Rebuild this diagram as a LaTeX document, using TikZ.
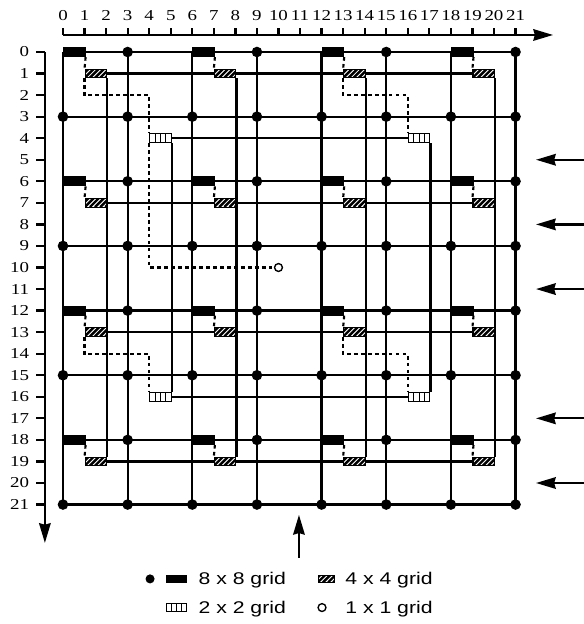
\documentclass[tikz,border=0pt]{standalone}
\usepackage{fontspec}
\setmainfont{Liberation Serif}[FakeStretch=1.25]
\newfontfamily\keyfont{Liberation Sans}[FakeStretch=1.25]
\usetikzlibrary{arrows.meta,backgrounds,calc}

\tikzset{
  gridline/.style={line width=1.5pt},
  linkline/.style={line width=1.4pt, dash pattern=on 2.4pt off 2.2pt},
  inarrow/.style={line width=1.5pt, -{Stealth[length=13pt,width=7.6pt,inset=1pt]}},
  dot8/.style={circle, fill=black, inner sep=0pt, minimum size=7pt},
  box8/.style={draw, fill=black, line width=0.7pt, inner sep=0pt, minimum width=0.5cm, minimum height=6pt},
  box4/.style={draw, fill=white, line width=0.7pt, inner sep=0pt, minimum width=0.5cm, minimum height=5.6pt,
    path picture={\foreach \k in {0,...,7}
      \draw[line width=1.6pt] ([xshift=\k*3.4pt-7pt]path picture bounding box.south west) -- ++(8pt,8pt);}},
  box2/.style={draw, fill=white, line width=0.7pt, inner sep=0pt, minimum width=0.5cm, minimum height=6pt,
    path picture={\foreach \k in {1,2,3}
      \draw[line width=0.7pt] ($(path picture bounding box.south west)!\k/4!(path picture bounding box.south east)$)
        -- ($(path picture bounding box.north west)!\k/4!(path picture bounding box.north east)$);}},
  dot1/.style={circle, draw, fill=white, line width=0.9pt, inner sep=0pt, minimum size=5.2pt},
  keytext/.style={anchor=base west, inner sep=0pt, font=\keyfont\fontsize{11.2}{13}\selectfont},
}

\begin{document}
\begin{tikzpicture}[x=0.5cm, y=-0.5cm, font=\fontsize{10}{12}\selectfont]
\useasboundingbox (-2.923,-2.413) rectangle (24.176,26.543);

\foreach \a in {0,...,7}
  \foreach \b in {0,...,7}
    \coordinate (p-\a-\b) at (3*\a,3*\b);

\foreach \a in {0,2,4,6}
  \foreach \b in {0,2,4,6} {
    \node[box8, anchor=west] (b-\a-\b) at (p-\a-\b) {};
    \node[box4, anchor=west] (h-\a-\b) at ($(p-\a-\b)+(1,1)$) {};
  }

\foreach \a in {0,...,7}
  \foreach \b in {0,...,7} {
    \pgfmathtruncatemacro\isdot{mod(\a,2)+mod(\b,2)}
    \ifnum\isdot>0 \node[dot8] (d-\a-\b) at (p-\a-\b) {}; \fi
  }

\foreach \a/\b in {4/4,16/4,4/16,16/16}
  \node[box2, anchor=west] (q-\a-\b) at (\a,\b) {};
\node[dot1] (c-10-10) at (10,10) {};

\begin{pgfonlayer}{background}
\foreach \b in {0,...,7} {
  \draw[gridline] (p-0-\b) -- (p-7-\b);
  \draw[gridline] (p-\b-0) -- (p-\b-7);
}
\foreach \b in {0,2,4,6} {
  \draw[gridline] (h-0-\b.east) -- (h-6-\b.west);
  \draw[gridline] (h-\b-0.south east) -- (h-\b-6.north east);
}
\draw[gridline] (q-4-4.east) -- (q-16-4.west);
\draw[gridline] (q-4-16.east) -- (q-16-16.west);
\draw[gridline] (q-4-4.south east) -- (q-4-16.north east);
\draw[gridline] (q-16-4.south east) -- (q-16-16.north east);

\foreach \a in {0,2,4,6}
  \foreach \b in {0,2,4,6}
    \draw[linkline] (b-\a-\b.south east) -- (h-\a-\b.north west);
\foreach \a/\b/\c/\d in {0/0/4/4, 4/0/16/4, 0/4/4/16, 4/4/16/16}
  \draw[linkline] (h-\a-\b.south west) -- ++(0,0.79) -| (q-\c-\d.north west);
\draw[linkline] (q-4-4.south west) |- (c-10-10.west);
\end{pgfonlayer}

\coordinate (xo) at (0,-0.79);
\coordinate (xe) at (22.74,-0.79);
\draw[inarrow] (xo) -- (xe);
\foreach \x in {0,...,21} {
  \draw[gridline] (\x,-0.79) -- (\x,-1.1);
  \node[anchor=base, inner sep=0pt] (xl-\x) at (\x,-1.485) {\x};
}
\coordinate (yo) at (-0.84,0);
\coordinate (ye) at (-0.84,22.78);
\draw[inarrow] (yo) -- (ye);
\foreach \y in {0,...,21} {
  \draw[gridline] (-0.84,\y) -- (-1.25,\y);
  \node[anchor=east, inner sep=0pt] (yl-\y) at (-1.56,\y) {\y};
}

\foreach \r in {5,8,11,17,20} {
  \coordinate (in-\r) at (24.3,\r);
  \coordinate (to-\r) at (21.95,\r);
  \draw[inarrow] (in-\r) -- (to-\r);
}
\coordinate (in-col) at (10.95,23.48);
\coordinate (to-col) at (10.95,21.48);
\draw[inarrow] (in-col) -- (to-col);

\node[dot8, minimum size=6pt] (key-dot) at (4.04,24.45) {};
\node[box8, minimum width=0.48cm, minimum height=4.6pt] (key-8) at (5.27,24.45) {};
\node[keytext] (key-8t) at (6.28,24.73) {8 x 8 grid};
\node[box4, minimum width=0.39cm, minimum height=4.6pt] (key-4) at (12.23,24.45) {};
\node[keytext] (key-4t) at (13.09,24.73) {4 x 4 grid};
\node[box2, minimum width=0.48cm, minimum height=5pt] (key-2) at (5.27,25.78) {};
\node[keytext] (key-2t) at (6.28,26.05) {2 x 2 grid};
\node[dot1] (key-1) at (12.02,25.78) {};
\node[keytext] (key-1t) at (13.09,26.05) {1 x 1 grid};

\end{tikzpicture}
\end{document}
